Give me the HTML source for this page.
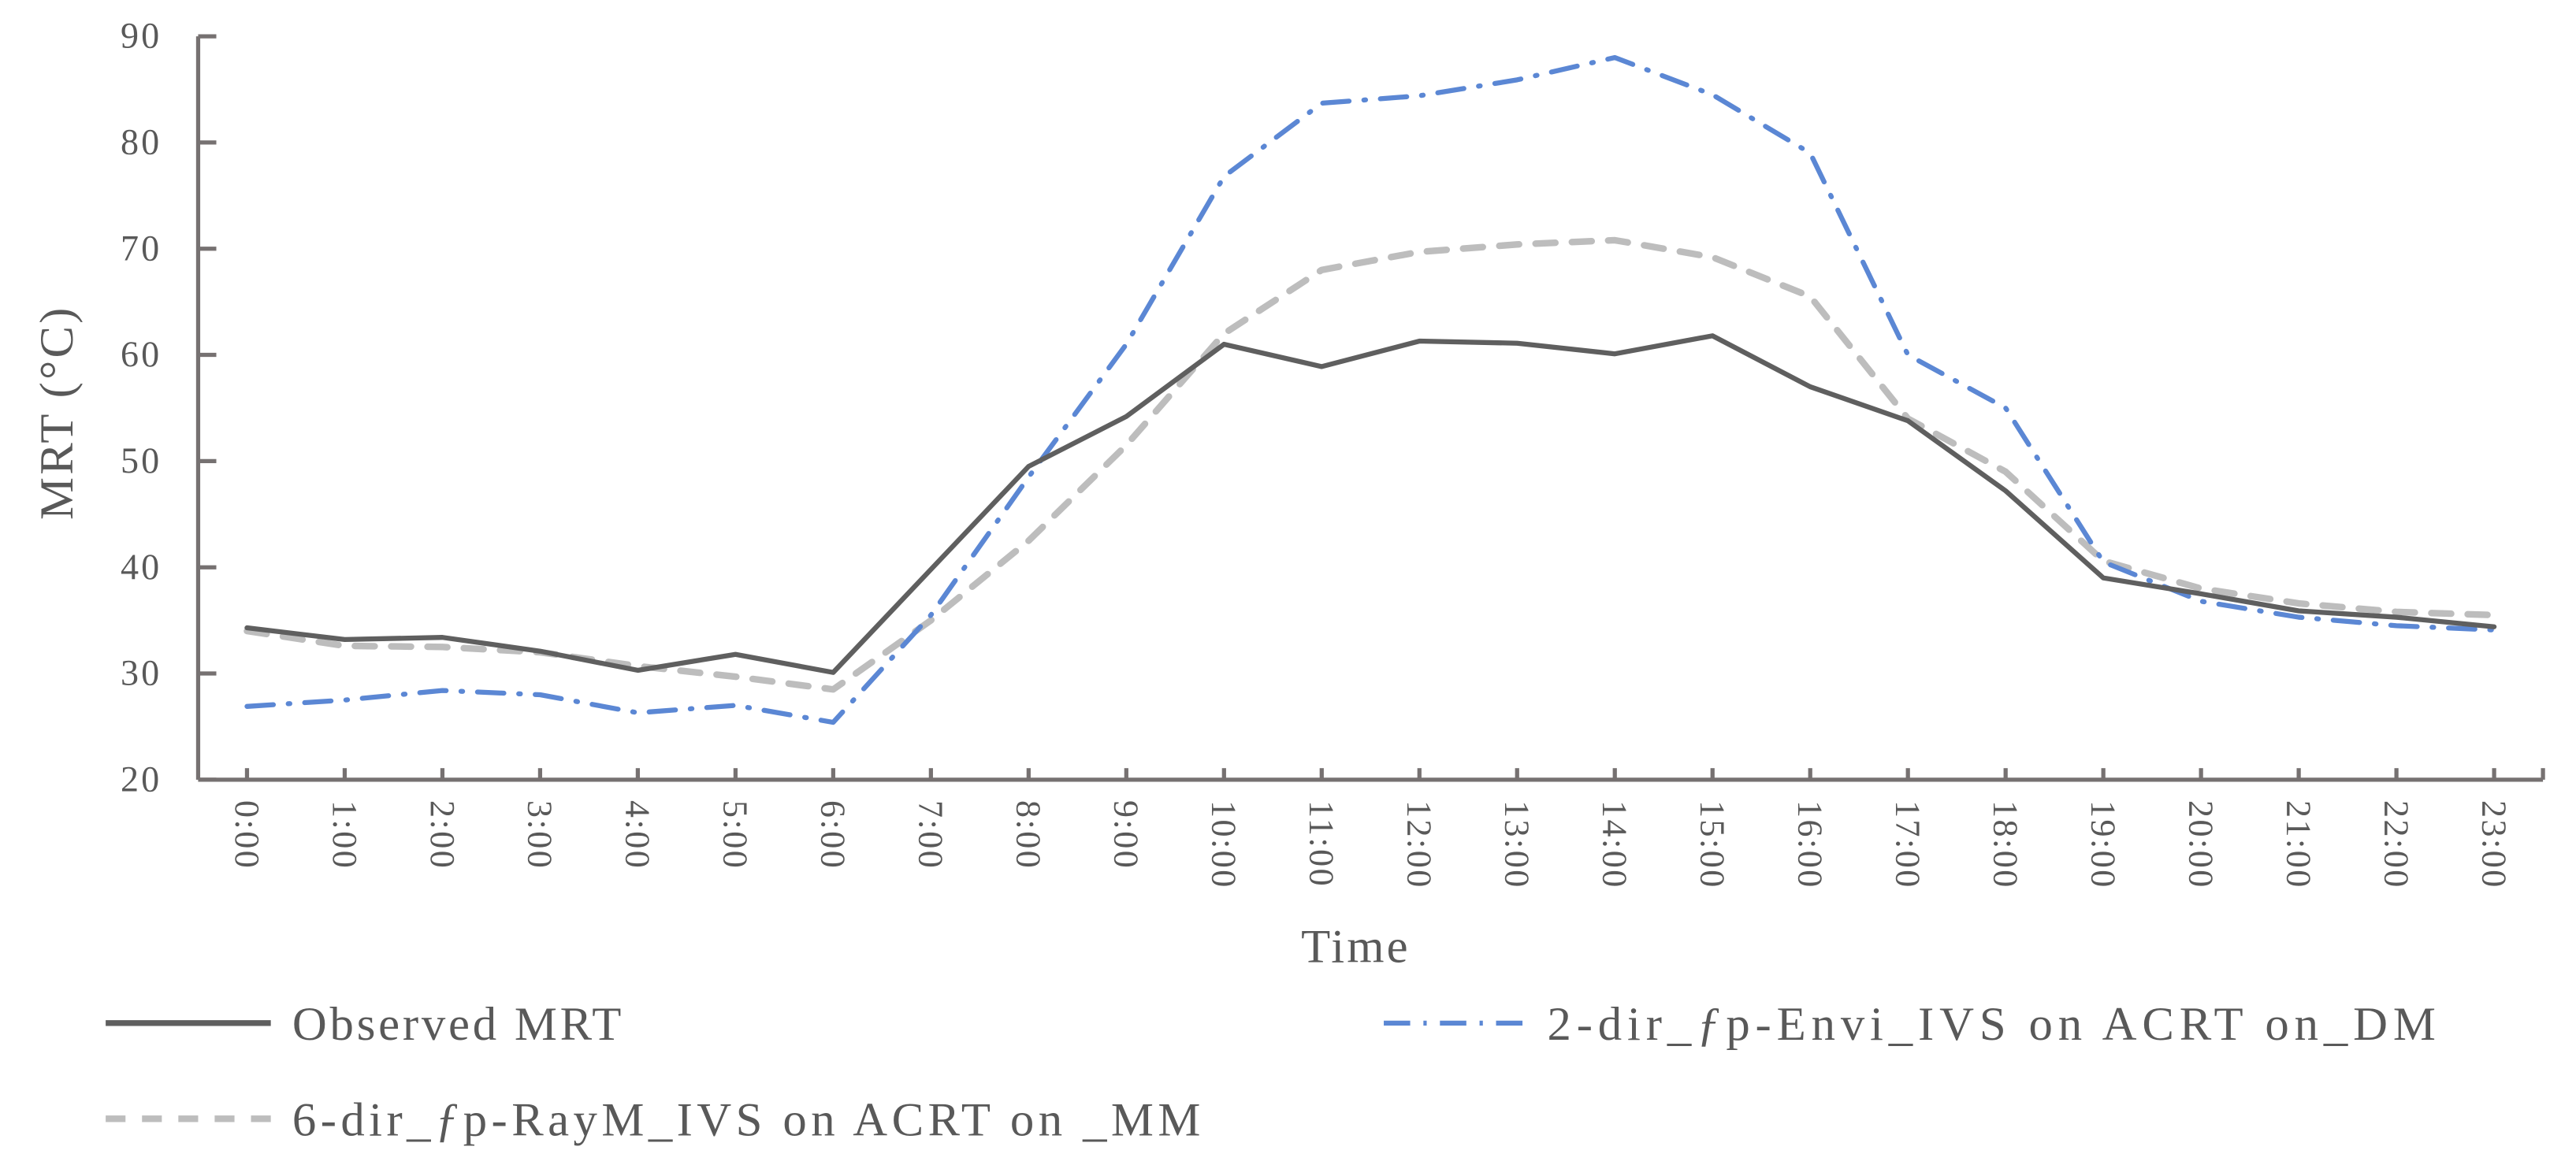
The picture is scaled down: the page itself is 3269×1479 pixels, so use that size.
<!DOCTYPE html>
<html><head><meta charset="utf-8"><style>
html,body{margin:0;padding:0;background:#fff;}
svg{display:block;}
text{font-family:"Liberation Serif",serif;fill:#595959;}
</style></head><body>
<svg id="chart" width="3269" height="1479" viewBox="0 0 1560 706" preserveAspectRatio="none" xmlns="http://www.w3.org/2000/svg">
<g id="axes"></g>
<g id="series"></g>
<text transform="translate(44,250) rotate(-90)" text-anchor="middle" font-size="29" letter-spacing="1.5">MRT (°C)</text>
<text x="821" y="583" text-anchor="middle" font-size="29" letter-spacing="1.5">Time</text>
<g>
<line x1="64" y1="620" x2="164" y2="620" stroke="#5f5f5f" stroke-width="3.5"/>
<text x="177" y="630" font-size="29" letter-spacing="1.8">Observed MRT</text>
<line x1="838" y1="620" x2="926" y2="620" stroke="#5b87d4" stroke-width="3" stroke-dasharray="16,8,2,8"/>
<text x="937" y="630" font-size="29" textLength="538" lengthAdjust="spacing">2-dir_<tspan font-style="italic">ƒ</tspan>p-Envi_IVS on ACRT on_DM</text>
<line x1="64" y1="678" x2="164" y2="678" stroke="#bdbdbd" stroke-width="4" stroke-dasharray="12,10"/>
<text x="177" y="688" font-size="29" textLength="550" lengthAdjust="spacing">6-dir_<tspan font-style="italic">ƒ</tspan>p-RayM_IVS on ACRT on _MM</text>
</g>
</svg>
<script>
const categories = ["0:00","1:00","2:00","3:00","4:00","5:00","6:00","7:00","8:00","9:00","10:00","11:00","12:00","13:00","14:00","15:00","16:00","17:00","18:00","19:00","20:00","21:00","22:00","23:00"];
const observed = [34.3,33.2,33.4,32.1,30.3,31.8,30.1,39.8,49.5,54.2,61,58.9,61.3,61.1,60.1,61.8,57,53.8,47.2,39,37.5,35.9,35.3,34.4];
const twoDir = [26.9,27.5,28.4,28,26.3,27,25.4,35.5,48.5,61,76.8,83.7,84.4,85.9,88,84.5,79,60,55,40.5,36.8,35.3,34.5,34.1];
const sixDir = [34,32.6,32.5,32,30.7,29.7,28.5,35,42.5,51.5,62,68,69.7,70.4,70.8,69.2,65.5,54,49,40.6,38,36.6,35.8,35.5];
const yTicks = [20,30,40,50,60,70,80,90];

const NS="http://www.w3.org/2000/svg";
const X0=120,X1=1540,Y0=472.5,Y1=22;
const step=(X1-X0)/categories.length;
const xs=i=>X0+step*(i+0.5);
const ys=v=>Y0-(v-20)/(90-20)*(Y0-Y1);
function mk(tag,attrs,parent){const e=document.createElementNS(NS,tag);for(const k in attrs)e.setAttribute(k,attrs[k]);parent.appendChild(e);return e;}
const axes=document.getElementById('axes');
const ax='#767171';
let e=mk('line',{x1:X0,y1:Y1,x2:X0,y2:Y0,stroke:ax,'stroke-width':2.5},axes);


e=mk('line',{x1:X0,y1:Y0,x2:X1,y2:Y0,stroke:ax,'stroke-width':2.5},axes);


yTicks.forEach(v=>{
  const t=mk('line',{x1:X0,y1:ys(v),x2:X0+11,y2:ys(v),stroke:ax,'stroke-width':2.5},axes);
  
  
  const l=mk('text',{x:X0-22,y:ys(v)+7,'text-anchor':'end','font-size':22,'letter-spacing':1.5},axes);
  l.textContent=v;
  
  
});
categories.forEach((c,i)=>{
  const x=xs(i);
  const t=mk('line',{x1:x,y1:Y0,x2:x,y2:Y0-7,stroke:ax,'stroke-width':2.5},axes);
  
  
  const l=mk('text',{transform:`translate(${x-7},485) rotate(90)`,'font-size':21,'letter-spacing':1.2},axes);
  l.textContent=c;
  
  
});
const endT=mk('line',{x1:X1,y1:Y0,x2:X1,y2:Y0-7,stroke:ax,'stroke-width':2.5},axes);


const series=document.getElementById('series');
function draw(arr,name,attrs){
  const p=mk('polyline',Object.assign({points:arr.map((v,i)=>xs(i)+','+ys(v)).join(' '),fill:'none','stroke-linejoin':'round','stroke-linecap':'round'},attrs),series);
  
  
}
draw(sixDir,'series-6dir-raym',{stroke:'#bdbdbd','stroke-width':4,'stroke-dasharray':'12,10'});
draw(twoDir,'series-2dir-envi',{stroke:'#5b87d4','stroke-width':3,'stroke-dasharray':'16,9,1,9'});
draw(observed,'series-observed',{stroke:'#5f5f5f','stroke-width':3});
</script>
</body></html>
